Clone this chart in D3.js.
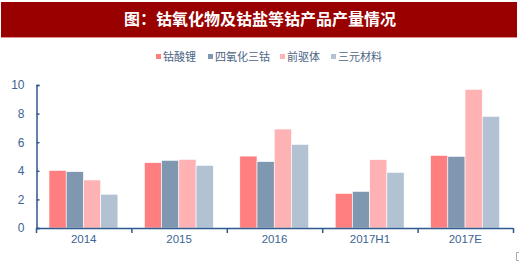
<!DOCTYPE html>
<html>
<head>
<meta charset="utf-8">
<script src="https://cdn.jsdelivr.net/npm/d3@7"></script>
<style>
  body { margin: 0; background: #fff; }
  svg { display: block; }
</style>
</head>
<body>
<div id="chart"></div>
<script>
// chart data
const categories = ["2014", "2015", "2016", "2017H1", "2017E"];
const series = ["钴酸锂", "四氧化三钴", "前驱体", "三元材料"];
const licoo2 = [4.03, 4.57, 5.03, 2.42, 5.08];
const co3o4 = [3.94, 4.73, 4.64, 2.56, 5.01];
const precursor = [3.36, 4.80, 6.92, 4.78, 9.70];
const ternary = [2.36, 4.38, 5.85, 3.89, 7.81];
const yTicks = [0, 2, 4, 6, 8, 10];
const colors = ["#ff7f80", "#7f97b1", "#ffb2b4", "#b3c2d3"];

const values = [licoo2, co3o4, precursor, ternary];
const width = 520, height = 265;
const axisColor = "#2f5a8e", labelColor = "#3b6495";

let svg = d3.select("#chart")
    .append("svg")
    .attr("width", width)
    .attr("height", height);

// title bar
svg.append("rect")
    .attr("x", 1).attr("y", 2)
    .attr("width", 516).attr("height", 35)
    .attr("fill", "#990000");
svg.append("line")
    .attr("x1", 1).attr("x2", 517)
    .attr("y1", 37.5).attr("y2", 37.5)
    .attr("stroke", "#e38a8a");
svg.append("text")
    .attr("x", 260).attr("y", 25)
    .attr("text-anchor", "middle")
    .attr("fill", "#fff")
    .style("font-family", "'Noto Sans CJK SC', sans-serif")
    .style("font-weight", "bold")
    .style("font-size", "16px")
    .text("图：钴氧化物及钴盐等钴产品产量情况");

// scales
let x0 = d3.scaleBand()
    .domain(categories)
    .range([36, 513])
    .paddingInner(0);

let x1 = d3.scaleBand()
    .domain(series)
    .range([13, x0.bandwidth() - 13.5]);

let y = d3.scaleLinear()
    .domain([0, 10])
    .range([228, 85]);

// bars
let groups = svg.selectAll(".grp")
    .data(categories)
    .enter()
    .append("g")
    .attr("transform", d => `translate(${x0(d)},0)`);

groups.selectAll("rect")
    .data((c, i) => series.map((s, j) => ({s: s, j: j, v: values[j][i]})))
    .enter()
    .append("rect")
    .attr("x", d => x1(d.s))
    .attr("y", d => y(d.v))
    .attr("width", x1.bandwidth())
    .attr("height", d => y(0) - y(d.v))
    .attr("fill", d => colors[d.j])
    .attr("stroke", "#fff")
    .attr("stroke-width", 0.6);

// y axis
let yAxis = svg.append("g")
    .attr("transform", "translate(36.5,0)")
    .call(d3.axisLeft(y).tickValues(yTicks).tickSizeInner(-3).tickSizeOuter(-3).tickPadding(12));
yAxis.select(".domain").attr("stroke", axisColor).attr("stroke-width", 1.5);
yAxis.selectAll(".tick line").attr("stroke", axisColor).attr("stroke-width", 1.5);
yAxis.selectAll("text")
    .attr("fill", labelColor)
    .style("font-family", "'Liberation Sans', Arial, sans-serif")
    .style("font-size", "12px");

// x axis
svg.append("line")
    .attr("x1", x0.range()[0]).attr("x2", x0.range()[1])
    .attr("y1", y(0) + 0.5).attr("y2", y(0) + 0.5)
    .attr("stroke", axisColor).attr("stroke-width", 1.5);

let bounds = categories.map(c => x0(c)).concat([x0.range()[1]]);
svg.selectAll(".xtick")
    .data(bounds)
    .enter()
    .append("line")
    .attr("x1", d => d + 0.5).attr("x2", d => d + 0.5)
    .attr("y1", y(0)).attr("y2", y(0) + 5)
    .attr("stroke", axisColor).attr("stroke-width", 1.5);

svg.selectAll(".xlab")
    .data(categories)
    .enter()
    .append("text")
    .attr("x", d => x0(d) + x0.bandwidth() / 2)
    .attr("y", 243)
    .attr("text-anchor", "middle")
    .attr("fill", labelColor)
    .style("font-family", "'Liberation Sans', Arial, sans-serif")
    .style("font-size", "11.5px")
    .text(d => d);

// legend
const legendX = [156, 208, 280, 331];
let legend = svg.selectAll(".leg")
    .data(series)
    .enter()
    .append("g")
    .attr("transform", (d, i) => `translate(${legendX[i]},0)`);
legend.append("rect")
    .attr("x", 0).attr("y", 54)
    .attr("width", 5).attr("height", 5)
    .attr("fill", (d, i) => colors[i]);
legend.append("text")
    .attr("x", 7).attr("y", 61)
    .attr("fill", "#4d6584")
    .style("font-family", "'Noto Sans CJK SC', sans-serif")
    .style("font-size", "11px")
    .text(d => d);

// corner mark
svg.append("path")
    .attr("d", "M519,252.5H516.5V260.5H519")
    .attr("fill", "none")
    .attr("stroke", "#aaa");
</script>
</body>
</html>
